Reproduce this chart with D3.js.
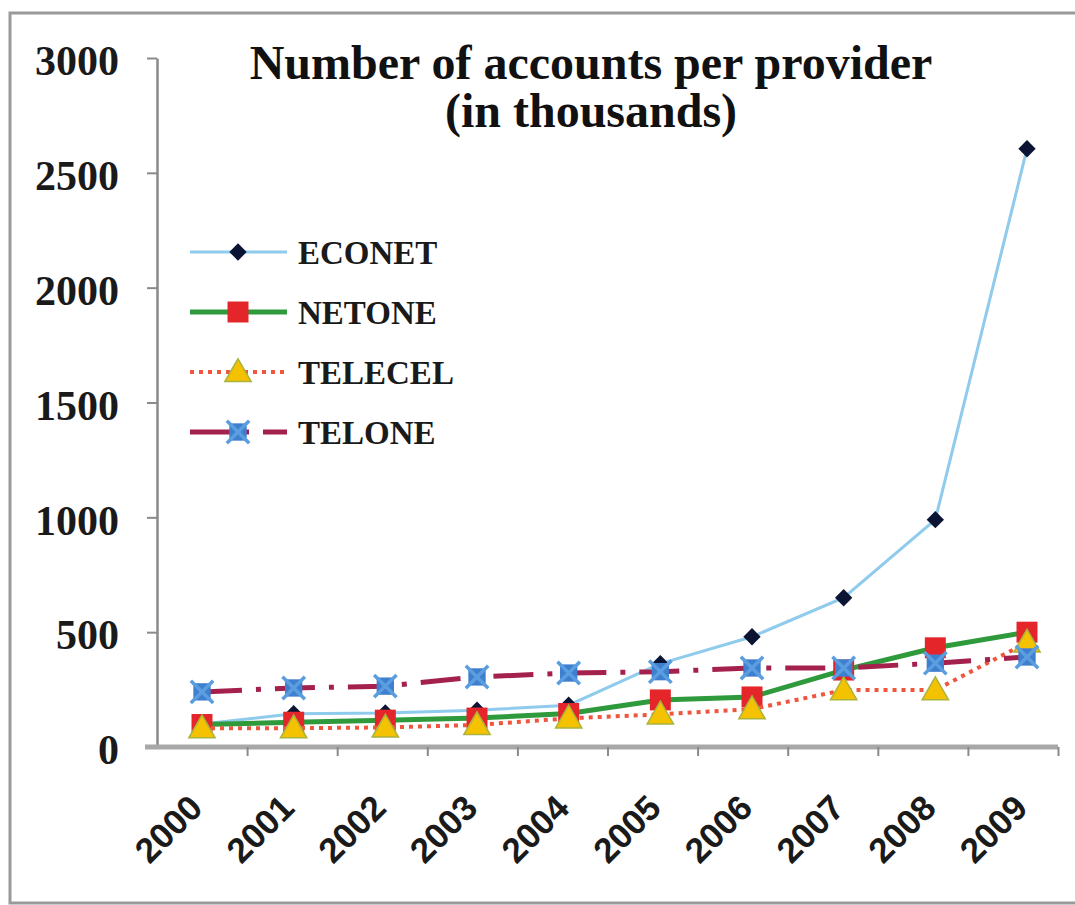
<!DOCTYPE html>
<html>
<head>
<meta charset="utf-8">
<script src="https://cdn.jsdelivr.net/npm/d3@7"></script>
<style>
  html, body { margin: 0; padding: 0; background: #fff; }
  svg { display: block; }
</style>
</head>
<body>
<div id="graph"></div>
<script>
// data (thousands of accounts)
const years = ["2000", "2001", "2002", "2003", "2004", "2005", "2006", "2007", "2008", "2009"];
const econet = [100, 145, 148, 160, 182, 363, 480, 650, 990, 2605];
const netone = [98, 108, 117, 126, 146, 205, 218, 335, 432, 500];
const telecel = [82, 82, 85, 96, 125, 142, 165, 248, 248, 455];
const telone = [240, 257, 265, 305, 322, 328, 344, 344, 365, 392];
const yTicks = [0, 500, 1000, 1500, 2000, 2500, 3000];
const seriesNames = ["ECONET", "NETONE", "TELECEL", "TELONE"];
const titleLines = ["Number of accounts per provider", "(in thousands)"];

const width = 1075;
const height = 905;

const svg = d3.select("#graph").append("svg")
    .attr("width", width)
    .attr("height", height);

// outer frame
svg.append("rect")
    .attr("x", 10)
    .attr("y", 13)
    .attr("width", 1075)
    .attr("height", 890)
    .attr("fill", "none")
    .attr("stroke", "#9a9a9a")
    .attr("stroke-width", 3);

const yScale = d3.scaleLinear()
    .domain([0, 3000])
    .range([747, 58]);

// points are spaced a bit wider than the axis in the scan
const xScale = d3.scalePoint()
    .domain(years)
    .range([202, 1027]);

// category boundaries for the tick marks
const xEdge = d3.scaleLinear()
    .domain([0, years.length])
    .range([157, 1058]);

// Y axis
const yAxis = svg.append("g")
    .attr("transform", "translate(157,0)")
    .call(d3.axisLeft(yScale).tickValues(yTicks).tickFormat(d3.format("d"))
        .tickSize(10).tickPadding(28).tickSizeOuter(0));
yAxis.select(".domain").attr("stroke", "#8a8a8a").attr("stroke-width", 2.5);
yAxis.selectAll(".tick line").attr("stroke", "#8a8a8a").attr("stroke-width", 2);
yAxis.selectAll(".tick text")
    .attr("fill", "#1a1a1a")
    .attr("dy", "0.4em")
    .style("font-family", "'Liberation Serif', 'Times New Roman', serif")
    .style("font-weight", "bold")
    .style("font-size", "42px");

// X axis line + boundary ticks
const xAxis = svg.append("g")
    .attr("transform", "translate(0,747)")
    .call(d3.axisBottom(xEdge).tickValues(d3.range(1, years.length + 1)).tickSize(9).tickFormat("").tickSizeOuter(0));
xAxis.select(".domain")
    .attr("d", "M145,0H1058")
    .attr("stroke", "#a8a8a8")
    .attr("stroke-width", 5);
xAxis.selectAll(".tick line").attr("stroke", "#8a8a8a").attr("stroke-width", 2);

// X labels, rotated
const xLabels = svg.append("g")
    .attr("transform", "translate(0,812)")
    .call(d3.axisBottom(xScale).tickSize(0).tickPadding(0));
xLabels.select(".domain").remove();
xLabels.selectAll(".tick text")
    .attr("y", 0)
    .attr("x", 3)
    .attr("dy", 0)
    .attr("transform", "rotate(-45)")
    .style("text-anchor", "end")
    .attr("fill", "#1a1a1a")
    .style("font-family", "'Liberation Sans', Arial, sans-serif")
    .style("font-weight", "bold")
    .style("font-size", "35px");

// series styles
const styles = {
    ECONET: { data: econet, color: "#8fcbec", width: 3, dash: null, marker: "diamond" },
    NETONE: { data: netone, color: "#2f9a3c", width: 5, dash: null, marker: "square" },
    TELECEL: { data: telecel, color: "#f0553e", width: 4, dash: "4,5", marker: "triangle" },
    TELONE: { data: telone, color: "#a5214d", width: 5, dash: "40,14,5,14", marker: "star" }
};

function drawMarker(g, type, x, y) {
    const m = g.append("g").attr("transform", "translate(" + x + "," + y + ")");
    if (type === "diamond") {
        m.append("path")
            .attr("d", d3.symbol().type(d3.symbolSquare).size(150)())
            .attr("transform", "rotate(45)")
            .attr("fill", "#0b1533");
    } else if (type === "square") {
        m.append("path")
            .attr("d", d3.symbol().type(d3.symbolSquare).size(440)())
            .attr("fill", "#e4262b");
    } else if (type === "triangle") {
        m.append("path")
            .attr("d", d3.symbol().type(d3.symbolTriangle).size(300)())
            .attr("transform", "translate(0,2)")
            .attr("fill", "#f4c200")
            .attr("stroke", "#a9b33e")
            .attr("stroke-width", 1.5);
    } else if (type === "star") {
        m.append("path")
            .attr("d", d3.symbol().type(d3.symbolSquare).size(300)())
            .attr("fill", "#3f7fcf");
        m.append("path")
            .attr("d", d3.symbol().type(d3.symbolTimes).size(330)())
            .attr("fill", "none")
            .attr("stroke", "#5a9ee0")
            .attr("stroke-width", 3.5);
    }
}

const line = d3.line()
    .x((d, i) => xScale(years[i]))
    .y(d => yScale(d));

const plot = svg.append("g");

seriesNames.forEach(function(name) {
    const s = styles[name];
    plot.append("path")
        .datum(s.data)
        .attr("d", line)
        .attr("fill", "none")
        .attr("stroke", s.color)
        .attr("stroke-width", s.width)
        .attr("stroke-dasharray", s.dash);
    s.data.forEach(function(d, i) {
        drawMarker(plot, s.marker, xScale(years[i]), yScale(d));
    });
});

// legend
const legendY = d3.scalePoint()
    .domain(seriesNames)
    .range([252, 432]);

const legend = svg.selectAll(".legend")
    .data(seriesNames)
    .enter().append("g")
    .attr("class", "legend")
    .attr("transform", function(d) { return "translate(0," + legendY(d) + ")"; });

legend.append("line")
    .attr("x1", 190)
    .attr("x2", 287)
    .attr("y1", 0)
    .attr("y2", 0)
    .attr("stroke", d => styles[d].color)
    .attr("stroke-width", d => styles[d].width)
    .attr("stroke-dasharray", d => styles[d].dash);

legend.each(function(d) {
    drawMarker(d3.select(this), styles[d].marker, 238, 0);
});

legend.append("text")
    .attr("x", 298)
    .attr("y", 0)
    .attr("dy", "0.35em")
    .attr("fill", "#1a1a1a")
    .style("font-family", "'Liberation Serif', 'Times New Roman', serif")
    .style("font-weight", "bold")
    .style("font-size", "33px")
    .text(d => d);

// title
svg.selectAll(".title")
    .data(titleLines)
    .enter().append("text")
    .attr("class", "title")
    .attr("x", 591)
    .attr("y", (d, i) => 79 + i * 48)
    .style("text-anchor", "middle")
    .attr("fill", "#111")
    .style("font-family", "'Liberation Serif', 'Times New Roman', serif")
    .style("font-weight", "bold")
    .style("font-size", "48px")
    .text(d => d);
</script>
</body>
</html>
